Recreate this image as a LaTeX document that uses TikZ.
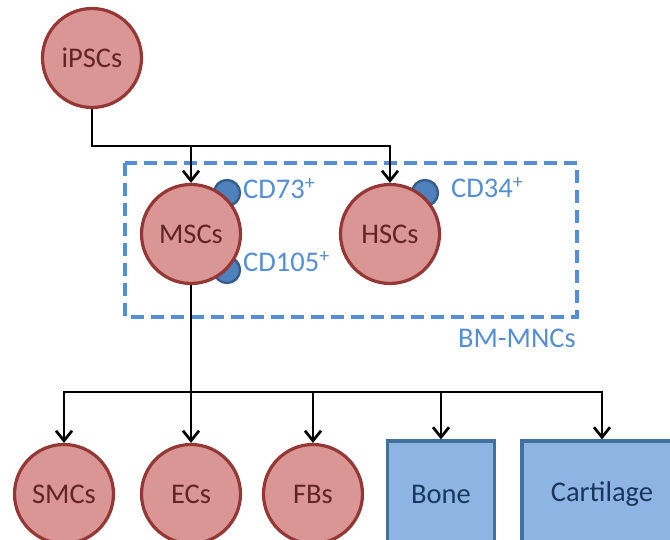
\documentclass[tikz,border=0pt]{standalone}
\usepackage{fontspec}
\setmainfont{Carlito}
\usepackage{tikz}
\usetikzlibrary{arrows.meta,positioning}

\definecolor{cellfill}{HTML}{D99694}
\definecolor{celldraw}{HTML}{953735}
\definecolor{celltext}{HTML}{632523}
\definecolor{tissuefill}{HTML}{8EB4E3}
\definecolor{tissuedraw}{HTML}{41719C}
\definecolor{tissuetext}{HTML}{17375E}
\definecolor{markfill}{HTML}{4F81BD}
\definecolor{markdraw}{HTML}{385D8A}
\definecolor{niche}{HTML}{558ED5}

\begin{document}
\begin{tikzpicture}[
  x=1pt, y=1pt,
  every node/.style={font=\fontsize{28.5}{32}\selectfont},
  cell/.style={circle, draw=celldraw, fill=cellfill, line width=3.2pt,
               minimum size=99pt, inner sep=0pt, text=celltext},
  tissue/.style={draw=tissuedraw, fill=tissuefill, line width=3.2pt,
                 minimum height=106pt, inner sep=0pt, text=tissuetext},
  marker/.style={circle, draw=markdraw, fill=markfill, line width=2.4pt,
                 minimum size=26pt, inner sep=0pt},
  mlbl/.style={text=niche, inner sep=0pt, anchor=west},
  wire/.style={line width=2.7pt, black},
  arr/.style={wire, -{Straight Barb[length=10pt, width=16pt, line width=2.7pt]}}
]
\useasboundingbox (0,0) rectangle (670,539);

% surface markers sit behind the cells
\node[marker] (m73)  at (227,346) {};
\node[marker] (m105) at (227,269) {};
\node[marker] (m34)  at (425,346) {};

% stem cells
\node[cell] (ips) at (92,481)  {iPSCs};
\node[cell] (msc) at (191,305) {MSCs};
\node[cell] (hsc) at (390,305) {HSCs};

\node[mlbl] (l73)  at (243,350) {CD73\textsuperscript{+}};
\node[mlbl] (l105) at (243,277) {CD105\textsuperscript{+}};
\node[mlbl] (l34)  at (451,351) {CD34\textsuperscript{+}};

% bone marrow compartment
\draw[niche, line width=3.2pt, dash pattern=on 13pt off 7pt]
  (125,376) rectangle (577,222);
\node[text=niche, anchor=east, inner sep=0pt] (bm) at (576,201) {BM-MNCs};

% differentiated progeny
\node[cell] (smc) at (64,45)  {SMCs};
\node[cell] (ec)  at (191,45) {ECs};
\node[cell] (fb)  at (313,45) {FBs};
\node[tissue, minimum width=107pt] (bone) at (441,45) {Bone};
\node[tissue, minimum width=160pt] (cart) at (602,45) {Cartilage};

% iPSCs -> MSCs / HSCs
\coordinate (fork) at (191,393);
\draw[arr] (ips.south) |- (fork) -- (msc.north);
\draw[arr] (fork) -| (hsc.north);

% MSCs -> progeny
\coordinate (bus) at (191,147);
\draw[wire] (msc.south) -- (bus);
\draw[wire, line cap=rect] (bus -| smc) -- (bus -| cart);
\foreach \n in {smc,ec,fb,bone,cart}
  \draw[arr] (bus -| \n) -- (\n.north);
\end{tikzpicture}
\end{document}
